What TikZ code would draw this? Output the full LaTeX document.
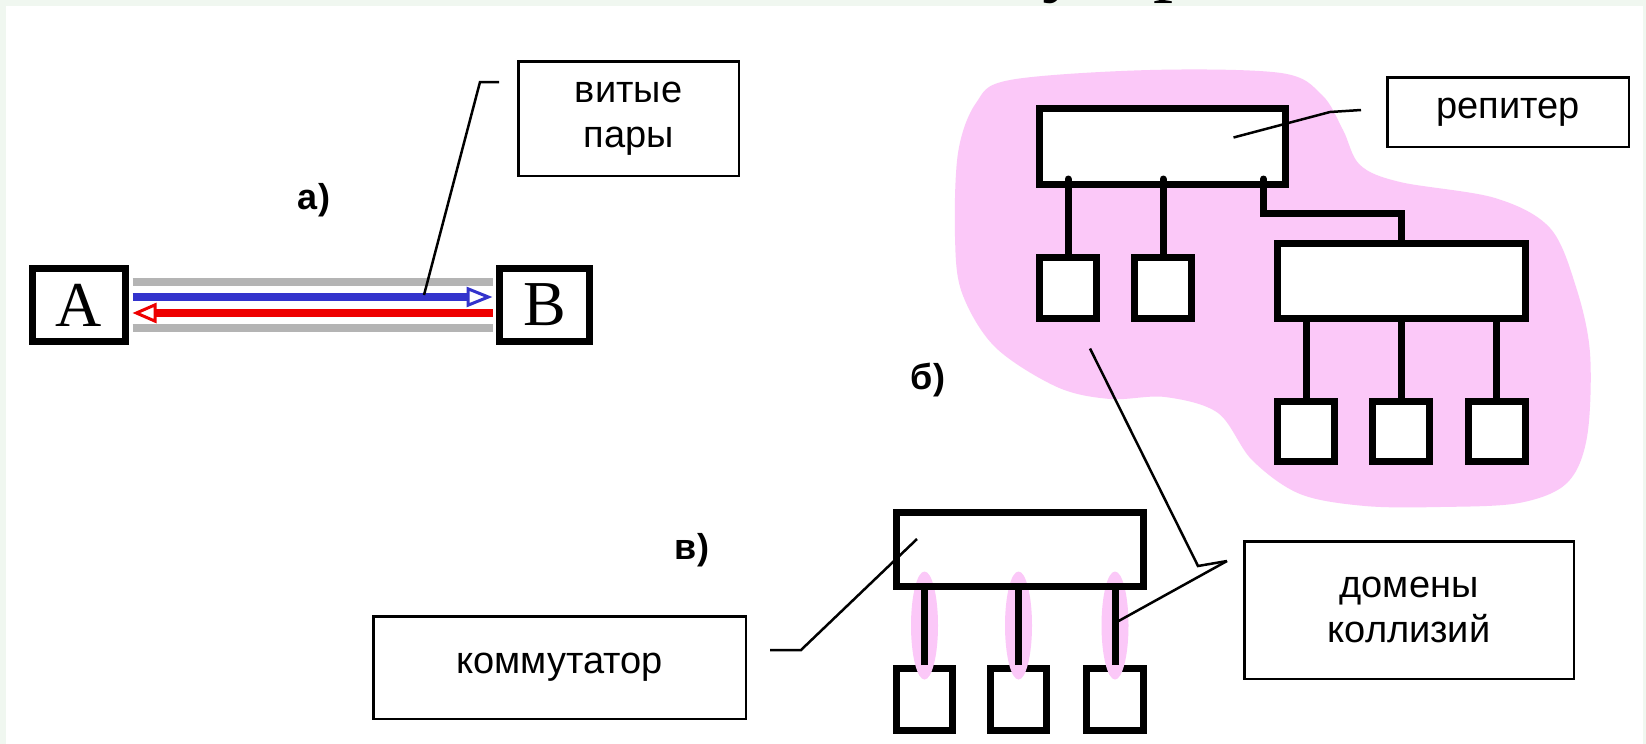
\documentclass[tikz,border=0pt]{standalone}
\usepackage{fontspec}
\setmainfont{Liberation Sans}
\newfontfamily\serifA{Liberation Serif}
\usetikzlibrary{arrows.meta,calc}
\definecolor{frameg}{RGB}{240,247,240}
\definecolor{pinkc}{RGB}{251,200,248}
\definecolor{cablegray}{RGB}{180,180,180}
\definecolor{bluec}{RGB}{51,51,204}
\definecolor{redc}{RGB}{238,0,0}
\begin{document}
\begin{tikzpicture}[x=1pt,y=-1pt,
  thickbox/.style={draw, line width=7pt, fill=white, inner sep=0pt},
  smallbox/.style={thickbox, minimum width=57pt, minimum height=61pt},
  labelbox/.style={draw, line width=2.5pt, fill=white, inner sep=0pt, align=center,
                   font=\fontsize{38}{45}\selectfont},
  leader/.style={line width=2.5pt},
  stub/.style={line width=7pt},
  tag/.style={font=\fontsize{36}{40}\selectfont\bfseries, inner sep=0pt},
  cable/.style={line width=8pt, shorten <=3.5pt, shorten >=3.5pt},
  letter/.style={font=\serifA\fontsize{64}{64}\selectfont}
]
\useasboundingbox (0,0) rectangle (1646,744);
% background and frame
\fill[frameg] (0,0) rectangle (1646,744);
\fill[white] (6,6) rectangle (1643,744);
% cut-off title
\begin{scope}
  \clip (0,0) rectangle (1646,744);
  \node[anchor=base west, inner sep=0pt, font=\serifA\fontsize{80}{90}\selectfont] (title) at (1042,-13) {устр};
\end{scope}

% ---------- a) twisted pair ----------
\node[thickbox, letter, minimum width=93pt, minimum height=73pt] (A) at (79,305) {A};
\node[thickbox, letter, minimum width=90pt, minimum height=73pt] (B) at (544.5,305) {B};
\draw[cable, cablegray] ([yshift=23pt]A.east) -- ([yshift=23pt]B.west);
\draw[cable, cablegray] ([yshift=-23pt]A.east) -- ([yshift=-23pt]B.west);
\draw[cable, bluec, -{Triangle[open, length=26pt, width=20pt, line width=3pt]}]
  ([yshift=8pt]A.east) -- ([yshift=8pt]B.west);
\draw[cable, redc, -{Triangle[open, length=24pt, width=20pt, line width=3pt]}]
  ([yshift=-8pt]B.west) -- ([yshift=-8pt]A.east);
\node[labelbox, minimum width=220.5pt, minimum height=114.5pt] (tw) at (628.5,118.5) {витые\\пары};
\coordinate (twtip) at (424,295);
\draw[leader] ($(tw.north west)+(-18,22)$) -- ++(-19,0) -- (twtip);
\node[tag] (la) at (314,200) {а)};

% ---------- b) repeaters ----------
\fill[pinkc] plot[smooth cycle, tension=0.55] coordinates {
  (1010,80) (1150,70) (1281,73) (1322,95) (1343,130) (1360,165) (1400,182)
  (1495,198) (1550,228) (1576,287) (1590,353) (1587,437) (1567,483) (1519,503)
  (1440,507) (1365,506) (1300,494) (1252,460) (1218,413) (1165,397) (1110,399)
  (1057,387) (995,347) (962,293) (955,237) (958,153) (976,103)};
\node[thickbox, minimum width=246pt, minimum height=76pt] (hub1) at (1162.5,146.5) {};
\node[smallbox] (h1b1) at (1068,287.5) {};
\node[smallbox] (h1b2) at (1163,287.5) {};
\node[thickbox, minimum width=248pt, minimum height=75pt] (hub2) at (1401.5,281) {};
\node[smallbox, minimum height=60pt] (h2b1) at (1306,431.5) {};
\node[smallbox, minimum height=60pt] (h2b2) at (1401,431.5) {};
\node[smallbox, minimum height=60pt] (h2b3) at (1496.5,431.5) {};
\draw[stub, line cap=round] (h1b1.north) -- ($(h1b1.north |- hub1.south)+(0,-9)$);
\draw[stub, line cap=round] (h1b2.north) -- ($(h1b2.north |- hub1.south)+(0,-9)$);
\draw[stub, line cap=round] ($(hub1.south east)+(-25.5,-9)$) -- ($(hub1.south east)+(-25.5,25.5)$) -| (hub2.north);
\draw[stub] (h2b1.north) -- (h2b1.north |- hub2.south);
\draw[stub] (h2b2.north) -- (h2b2.north |- hub2.south);
\draw[stub] (h2b3.north) -- (h2b3.north |- hub2.south);
\node[labelbox, minimum width=241.5pt, minimum height=69.5pt] (rep) at (1508,112) {репитер};
\draw[leader] ($(rep.west)+(-25,-2)$) -- ++(-31,2) -- ($(hub1.center)+(71,-9)$);
\node[tag] (lb) at (928,380) {б)};

% ---------- c) switch ----------
\node[smallbox, minimum width=56pt, minimum height=62pt] (swb1) at (924.5,699.5) {};
\node[smallbox, minimum width=56pt, minimum height=62pt] (swb2) at (1018.5,699.5) {};
\node[smallbox, minimum width=57pt, minimum height=62pt] (swb3) at (1115,699.5) {};
\fill[pinkc] ($(swb1.north)+(0,-39.5)$) ellipse [x radius=13.5pt, y radius=54pt];
\fill[pinkc] ($(swb2.north)+(0,-39.5)$) ellipse [x radius=13.5pt, y radius=54pt];
\fill[pinkc] ($(swb3.north)+(0,-39.5)$) ellipse [x radius=13.5pt, y radius=54pt];
\node[draw, line width=7pt, inner sep=0pt, minimum width=247pt, minimum height=74pt] (sw) at (1020,549.5) {};
\draw[stub] (swb1.north) -- (swb1.north |- sw.south);
\draw[stub] (swb2.north) -- (swb2.north |- sw.south);
\draw[stub] (swb3.north) -- (swb3.north |- sw.south);
\node[labelbox, minimum width=372.5pt, minimum height=102.5pt] (ko) at (559.5,667.5) {коммутатор};
\draw[leader] ($(ko.east)+(23,-17.5)$) -- ++(31,0) -- ($(sw.center)+(-103,-10.5)$);
\node[tag] (lc) at (692,550) {в)};

% collision domains
\node[labelbox, minimum width=329.5pt, minimum height=137.5pt] (dom) at (1409,610) {домены\\коллизий};
\coordinate (junc) at ($(dom.west)+(-16,-49)$);
\draw[leader] ($(h1b1.south)+(22,27)$) -- ($(dom.west)+(-45,-44)$) -- (junc);
\draw[leader] ($(swb3.north |- sw.south)+(0,33)$) -- (junc);
\end{tikzpicture}
\end{document}
